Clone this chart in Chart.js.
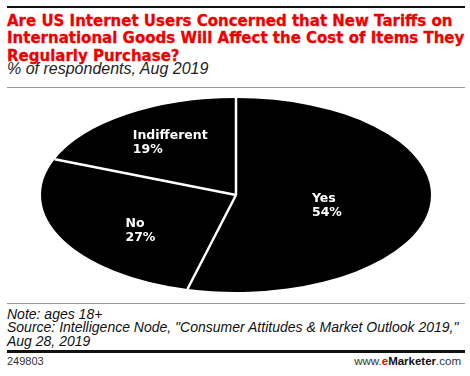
<!DOCTYPE html>
<html>
<head>
<meta charset="utf-8">
<script src="https://cdn.jsdelivr.net/npm/chart.js@4.4.0/dist/chart.umd.min.js"></script>
<style>
  html, body { margin: 0; padding: 0; background: #fff; }
  body { width: 470px; height: 376px; position: relative; overflow: hidden; }
  .abs { position: absolute; white-space: nowrap; }
  .rule { position: absolute; left: 7px; width: 458px; }
  .title { left: 7px; top: 12.5px; font: bold 15px/17.5px "DejaVu Sans", sans-serif; color: #ee0000; -webkit-text-stroke: 0.3px #ee0000; }
  .sub { left: 7px; top: 60px; font: italic 16px/18px "Liberation Sans", sans-serif; color: #222; }
  .notes { left: 7px; top: 307.5px; font: italic 14px/13.6px "Liberation Sans", sans-serif; color: #111; }
  .foot { top: 355px; font: 11px/12px "Liberation Sans", sans-serif; color: #333; }
  #wrap { position: absolute; left: 0; top: 90px; width: 470px; height: 210px; }
</style>
</head>
<body>
  <div class="rule" style="top:5.5px;height:2.5px;background:#111"></div>
  <div class="abs title">Are US Internet Users Concerned that New Tariffs on<br>International Goods Will Affect the Cost of Items They<br>Regularly Purchase?</div>
  <div class="abs sub">% of respondents, Aug 2019</div>
  <div class="rule" style="top:87px;height:1px;background:#999"></div>

  <div id="wrap"><canvas id="chart"></canvas></div>

  <div class="rule" style="top:303px;height:1px;background:#999"></div>
  <div class="abs notes">Note: ages 18+<br>Source: Intelligence Node, "Consumer Attitudes &amp; Market Outlook 2019,"<br>Aug 28, 2019</div>
  <div class="rule" style="top:350px;height:3px;background:#111"></div>
  <div class="abs foot" style="left:7px">249803</div>
  <div class="abs foot" style="right:9px;font-size:11.5px">www.<b style="color:#ee0000">e</b><b style="color:#111">Marketer</b>.com</div>

<script>
const labels = ['Yes', 'No', 'Indifferent'];
const values = [54, 27, 19];

// pie is drawn as a circle and squashed vertically into an ellipse
const radiusX = 195;
const squash = 97 / 195;
// where each label sits, as a fraction of the radius along the slice's mid angle [x, y]
const labelFrac = [[0.47, 0.87], [0.55, 0.82], [0.6, 0.65]];

const ellipsePie = {
  id: 'ellipsePie',
  beforeDatasetsDraw(chart) {
    const arc = chart.getDatasetMeta(0).data[0];
    const ctx = chart.ctx;
    ctx.save();
    ctx.translate(arc.x, arc.y);
    ctx.scale(1, squash);
    ctx.translate(-arc.x, -arc.y);
  },
  afterDatasetsDraw(chart) {
    const ctx = chart.ctx;
    ctx.restore();
    const arcs = chart.getDatasetMeta(0).data;

    // white separators between slices
    ctx.save();
    ctx.strokeStyle = '#fff';
    ctx.lineWidth = 2.5;
    arcs.forEach((arc) => {
      ctx.beginPath();
      ctx.moveTo(arc.x, arc.y);
      ctx.lineTo(arc.x + Math.cos(arc.startAngle) * arc.outerRadius,
                 arc.y + Math.sin(arc.startAngle) * arc.outerRadius * squash);
      ctx.stroke();
    });

    // labels
    ctx.fillStyle = '#fff';
    ctx.font = 'bold 12.5px "DejaVu Sans", sans-serif';
    ctx.textAlign = 'left';
    ctx.textBaseline = 'middle';
    arcs.forEach((arc, i) => {
      const mid = (arc.startAngle + arc.endAngle) / 2;
      const x = arc.x + Math.cos(mid) * arc.outerRadius * labelFrac[i][0];
      const y = arc.y + Math.sin(mid) * arc.outerRadius * squash * labelFrac[i][1];
      const lines = [labels[i], values[i] + '%'];
      const w = Math.max(...lines.map((t) => ctx.measureText(t).width));
      ctx.fillText(lines[0], x - w / 2, y - 7);
      ctx.fillText(lines[1], x - w / 2, y + 7);
    });
    ctx.restore();
  }
};

new Chart(document.getElementById('chart'), {
  type: 'pie',
  data: {
    labels: labels,
    datasets: [{
      data: values,
      backgroundColor: '#000',
      borderWidth: 0,
      radius: radiusX,
      clip: false,
    }],
  },
  options: {
    responsive: true,
    maintainAspectRatio: false,
    animation: false,
    events: [],
    layout: { padding: { left: 2 } },
    plugins: {
      legend: { display: false },
      tooltip: { enabled: false },
    },
  },
  plugins: [ellipsePie],
});
</script>
</body>
</html>
